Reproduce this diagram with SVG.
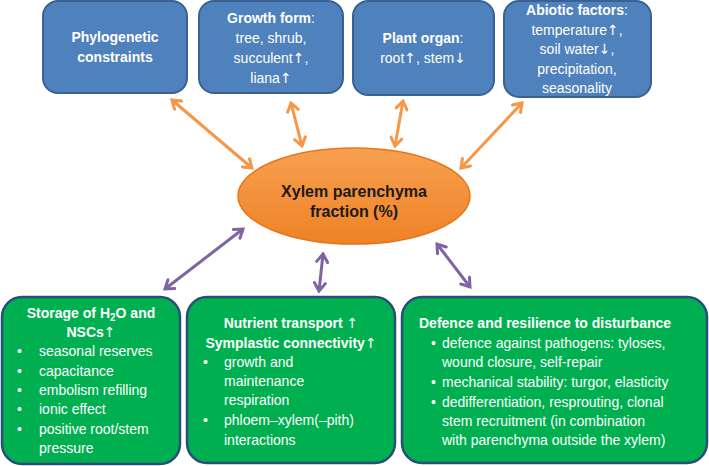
<svg xmlns="http://www.w3.org/2000/svg" width="709" height="466" viewBox="0 0 709 466">
<style>
text{font-family:"Liberation Sans",Arial,sans-serif;font-size:14px;fill:#ffffff}
.b{font-weight:bold}
.c{text-anchor:middle}
.ar{font-family:"DejaVu Sans",sans-serif;font-weight:normal;font-size:14px}
.blue{fill:#4F81BD;stroke:#3A6094;stroke-width:2}
.green{fill:#00B050;stroke:#284F7A;stroke-width:2.5}
.ao{stroke:#F79646;stroke-width:3;fill:none;marker-start:url(#mo);marker-end:url(#mo)}
.ap{stroke:#8064A2;stroke-width:3;fill:none;marker-start:url(#mp);marker-end:url(#mp)}
.dark{fill:#1a1a1a}
</style>
<defs>
<marker id="mo" viewBox="0 0 14 14" refX="11.5" refY="7" markerWidth="14" markerHeight="14" markerUnits="userSpaceOnUse" orient="auto-start-reverse">
<path d="M3.5,1.5 L11.5,7 L3.5,12.5" fill="none" stroke="#F79646" stroke-width="3" stroke-linecap="round"/>
</marker>
<marker id="mp" viewBox="0 0 14 14" refX="11.5" refY="7" markerWidth="14" markerHeight="14" markerUnits="userSpaceOnUse" orient="auto-start-reverse">
<path d="M3.5,1.5 L11.5,7 L3.5,12.5" fill="none" stroke="#8064A2" stroke-width="3" stroke-linecap="round"/>
</marker>
<linearGradient id="og" x1="0" y1="0" x2="0" y2="1">
<stop offset="0" stop-color="#F8A050"/>
<stop offset="1" stop-color="#EE8226"/>
</linearGradient>
</defs>
<rect width="709" height="466" fill="#ffffff"/>

<g id="connectors">
<line class="ao" x1="172" y1="100" x2="252" y2="168"/>
<line class="ao" x1="291" y1="103" x2="302" y2="146"/>
<line class="ao" x1="403" y1="101" x2="395" y2="146"/>
<line class="ao" x1="522" y1="103" x2="461" y2="168"/>
<line class="ap" x1="165" y1="289" x2="243" y2="229"/>
<line class="ap" x1="323" y1="254" x2="319" y2="291"/>
<line class="ap" x1="437" y1="244" x2="470" y2="287"/>
</g>

<g id="phylo">
<rect class="blue" x="43" y="1" width="144" height="92" rx="15"/>
<text class="b c" x="115" y="42">Phylogenetic</text>
<text class="b c" x="115" y="62">constraints</text>
</g>

<g id="growth">
<rect class="blue" x="199" y="1" width="144" height="92" rx="15"/>
<text class="c" x="271" y="23"><tspan class="b">Growth form</tspan>:</text>
<text class="c" x="271" y="43">tree, shrub,</text>
<text class="c" x="271" y="63">succulent<tspan class="ar">↑</tspan>,</text>
<text class="c" x="271" y="83">liana<tspan class="ar">↑</tspan></text>
</g>

<g id="organ">
<rect class="blue" x="353" y="1" width="141" height="94" rx="15"/>
<text class="c" x="423" y="43"><tspan class="b">Plant organ</tspan>:</text>
<text class="c" x="423" y="63">root<tspan class="ar">↑</tspan>, stem<tspan class="ar">↓</tspan></text>
</g>

<g id="abiotic">
<rect class="blue" x="504" y="1" width="147" height="96" rx="15"/>
<text class="c" x="577" y="15"><tspan class="b">Abiotic factors</tspan>:</text>
<text class="c" x="577" y="35">temperature<tspan class="ar">↑</tspan>,</text>
<text class="c" x="577" y="54">soil water<tspan class="ar">↓</tspan>,</text>
<text class="c" x="577" y="74">precipitation,</text>
<text class="c" x="577" y="93">seasonality</text>
</g>

<g id="xylem">
<ellipse cx="354" cy="196" rx="116" ry="48" fill="url(#og)" stroke="#E8741A" stroke-width="1.5"/>
<text class="b c dark" x="354" y="197" style="font-size:16px">Xylem parenchyma</text>
<text class="b c dark" x="354" y="217" style="font-size:16px">fraction (%)</text>
</g>

<g id="storage">
<rect class="green" x="2" y="297" width="178" height="167" rx="20"/>
<text class="b c" x="91" y="318">Storage of H<tspan style="font-size:10px" dy="3">2</tspan><tspan dy="-3">O and</tspan></text>
<text class="b c" x="91" y="337">NSCs<tspan class="ar">↑</tspan></text>
<text x="17" y="356">•</text><text x="39" y="356">seasonal reserves</text>
<text x="17" y="376">•</text><text x="39" y="376">capacitance</text>
<text x="17" y="395">•</text><text x="39" y="395">embolism refilling</text>
<text x="17" y="414">•</text><text x="39" y="414">ionic effect</text>
<text x="17" y="434">•</text><text x="39" y="434">positive root/stem</text>
<text x="39" y="453">pressure</text>
</g>

<g id="nutrient">
<rect class="green" x="187" y="297" width="208" height="166" rx="20"/>
<text class="b c" x="291" y="328">Nutrient transport  <tspan class="ar">↑</tspan></text>
<text class="b c" x="291" y="348">Symplastic connectivity<tspan class="ar">↑</tspan></text>
<text x="203" y="367">•</text><text x="224" y="367">growth and</text>
<text x="224" y="386">maintenance</text>
<text x="224" y="405">respiration</text>
<text x="203" y="425">•</text><text x="224" y="425">phloem–xylem(–pith)</text>
<text x="224" y="445">interactions</text>
</g>

<g id="defence">
<rect class="green" x="402" y="297" width="305" height="166" rx="20"/>
<text class="b" x="419" y="328">Defence and resilience to disturbance</text>
<text x="431" y="348">•</text><text x="442" y="348">defence against pathogens: tyloses,</text>
<text x="442" y="367">wound closure, self-repair</text>
<text x="431" y="387">•</text><text x="442" y="387">mechanical stability: turgor, elasticity</text>
<text x="431" y="407">•</text><text x="442" y="407">dedifferentiation, resprouting, clonal</text>
<text x="442" y="426">stem recruitment (in combination</text>
<text x="442" y="445">with parenchyma outside the xylem)</text>
</g>
</svg>
